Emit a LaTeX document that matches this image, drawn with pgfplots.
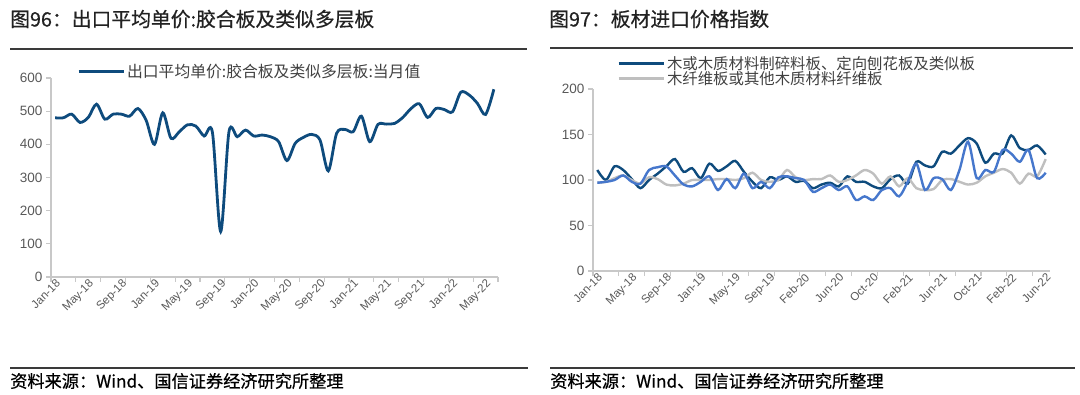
\documentclass[border=0pt]{standalone}
\usepackage{pgfplots}
\pgfplotsset{compat=1.18}
\usepackage{fontspec}
\setmainfont{Liberation Sans}
\newfontfamily\cjk{Noto Sans CJK SC}
\newfontfamily\cjktitle[FakeBold=0.6]{Noto Sans CJK SC}
\definecolor{dblue}{HTML}{0E4B7D}
\definecolor{mblue}{HTML}{4677CC}
\definecolor{lgray}{HTML}{BFBFBF}
\definecolor{axgray}{HTML}{C8C8C8}
\definecolor{tickgray}{HTML}{595959}
\definecolor{legtext}{HTML}{404040}
\definecolor{titletext}{HTML}{222222}
\definecolor{rulecol}{HTML}{3A3A3A}

\pgfplotstableread{
x y
0.5 480
1.5 480
2.5 491
3.5 466
4.5 481
5.5 521
6.5 476
7.5 491
8.5 491
9.5 485
10.5 508
11.5 472
12.5 400
13.5 495
14.5 418
15.5 438
16.5 459
17.5 455
18.5 425
19.5 436
20.5 137
21.5 438
22.5 423
23.5 443
24.5 425
25.5 428
26.5 423
27.5 408
28.5 351
29.5 403
30.5 421
31.5 430
32.5 413
33.5 320
34.5 433
35.5 445
36.5 438
37.5 485
38.5 408
39.5 460
40.5 461
41.5 463
42.5 481
43.5 508
44.5 522
45.5 481
46.5 508
47.5 505
48.5 498
49.5 557
50.5 549
51.5 524
52.5 490
53.5 566
}\leftdata

\pgfplotstableread{
x dark gray mid
0.5 111 97 97
1.5 100 98 98
2.5 115 102 100
3.5 111 105 105
4.5 101 100 98
5.5 91 96 96
6.5 100 103 111
7.5 107 101 114
8.5 115 95 115
9.5 123 94 105
10.5 109 96 95
11.5 113 100 93
12.5 102 100 98
13.5 118 100 104
14.5 110 101 89
15.5 115 101 101
16.5 121 100 91
17.5 109 102 107
18.5 98 108 91
19.5 91 100 98
20.5 103 98 91
21.5 100 100 103
22.5 104 111 104
23.5 98 103 102
24.5 99 100 100
25.5 91 101 87
26.5 95 101 91
27.5 97 105 95
28.5 93 98 89
29.5 104 100 93
30.5 98 105 78
31.5 98 111 82
32.5 93 107 78
33.5 91 96 89
34.5 101 104 91
35.5 105 93 82
36.5 96 102 98
37.5 120 91 118
38.5 116 89 89
39.5 115 90 102
40.5 131 100 101
41.5 129 101 89
42.5 138 98 111
43.5 146 95 142
44.5 140 97 102
45.5 119 104 111
46.5 129 108 109
47.5 129 112 133
48.5 149 108 129
49.5 135 96 120
50.5 133 107 133
51.5 138 104 102
52.5 128 123 108
}\rightdata

\pgfplotsset{
  mystyle/.style={
    scale only axis,
    clip=false,
    axis x line*=bottom,
    axis y line*=left,
    axis line style={axgray, line width=1.3pt},
    tick style={axgray, line width=1.1pt},
    major tick length=5pt,
    tick align=outside,
    xticklabels={},
    yticklabel style={font=\fontsize{13.5}{15}\selectfont, text=tickgray},
    /pgf/number format/assume math mode=true,
    extra x tick style={major tick length=0pt,
      tick label style={rotate=45, anchor=north east, font=\fontsize{11.5}{13}\selectfont, text=tickgray, inner sep=1pt}},
    legend cell align=left,
  }
}

\begin{document}
\begin{tikzpicture}
\useasboundingbox (0pt,0pt) rectangle (1080pt,394pt);

% titles and rules
\node[anchor=west, inner sep=0pt, text=titletext, font=\cjktitle\fontsize{19.8}{23}\selectfont] at (10pt,375pt) {图96：出口平均单价:胶合板及类似多层板};
\node[anchor=west, inner sep=0pt, text=titletext, font=\cjktitle\fontsize{19.8}{23}\selectfont] at (549pt,375pt) {图97：板材进口价格指数};
\draw[rulecol, line width=1.4pt] (10pt,345pt) -- (527pt,345pt);
\draw[rulecol, line width=1.4pt] (550pt,346pt) -- (1073pt,346pt);
\draw[rulecol, line width=1.4pt] (10pt,26pt) -- (528pt,26pt);
\draw[rulecol, line width=1.4pt] (550pt,26pt) -- (1075pt,26pt);
\node[anchor=west, inner sep=0pt, text=black, font=\cjktitle\fontsize{17.2}{19}\selectfont] at (10pt,13pt) {资料来源：Wind、国信证券经济研究所整理};
\node[anchor=west, inner sep=0pt, text=black, font=\cjktitle\fontsize{17.2}{19}\selectfont] at (550pt,13pt) {资料来源：Wind、国信证券经济研究所整理};

% left chart
\begin{axis}[mystyle,
  at={(51pt,117pt)}, anchor=south west,
  width=447pt, height=199pt,
  xmin=0, xmax=54, ymin=0, ymax=600,
  xtick={0,3,...,54},
  ytick={0,100,...,600},
  extra x ticks={0.5,4.5,...,52.5},
  extra x tick labels={Jan-18,May-18,Sep-18,Jan-19,May-19,Sep-19,Jan-20,May-20,Sep-20,Jan-21,May-21,Sep-21,Jan-22,May-22},
  legend image code/.code={\draw[#1, line width=3pt] (0pt,0pt) -- (45pt,0pt);},
  legend style={at={(0.058,1.032)}, anchor=west, draw=none, fill=none, inner sep=0pt,
    nodes={inner sep=2pt, text=legtext, font=\cjk\fontsize{15.8}{17}\selectfont}},
]
\addplot[dblue, line width=2.8pt, smooth, tension=0.5] table[x=x, y=y] {\leftdata};
\addlegendentry{出口平均单价:胶合板及类似多层板:当月值}
\end{axis}

% right chart
\begin{axis}[mystyle,
  at={(593pt,123pt)}, anchor=south west,
  width=457pt, height=182pt,
  xmin=0, xmax=53, ymin=0, ymax=200,
  xtick={0,3,...,51},
  ytick={0,50,...,200},
  extra x ticks={0.5,4.5,...,52.5},
  extra x tick labels={Jan-18,May-18,Sep-18,Jan-19,May-19,Sep-19,Feb-20,Jun-20,Oct-20,Feb-21,Jun-21,Oct-21,Feb-22,Jun-22},
  legend image code/.code={\draw[#1, line width=2.6pt] (0pt,0pt) -- (45pt,0pt);},
  legend style={at={(0.053,1.099)}, anchor=west, draw=none, fill=none, inner sep=0pt, row sep=-3.5pt,
    nodes={inner sep=2pt, text=legtext, font=\cjk\fontsize{15.4}{17}\selectfont}},
]
\addplot[dblue, line width=2.4pt, smooth, tension=0.5] table[x=x, y=dark] {\rightdata};
\addlegendentry{木或木质材料制碎料板、定向刨花板及类似板}
\addplot[lgray, line width=2.4pt, smooth, tension=0.5] table[x=x, y=gray] {\rightdata};
\addlegendentry{木纤维板或其他木质材料纤维板}
\addplot[mblue, line width=2.4pt, smooth, tension=0.5, forget plot] table[x=x, y=mid] {\rightdata};
\end{axis}
\end{tikzpicture}
\end{document}
